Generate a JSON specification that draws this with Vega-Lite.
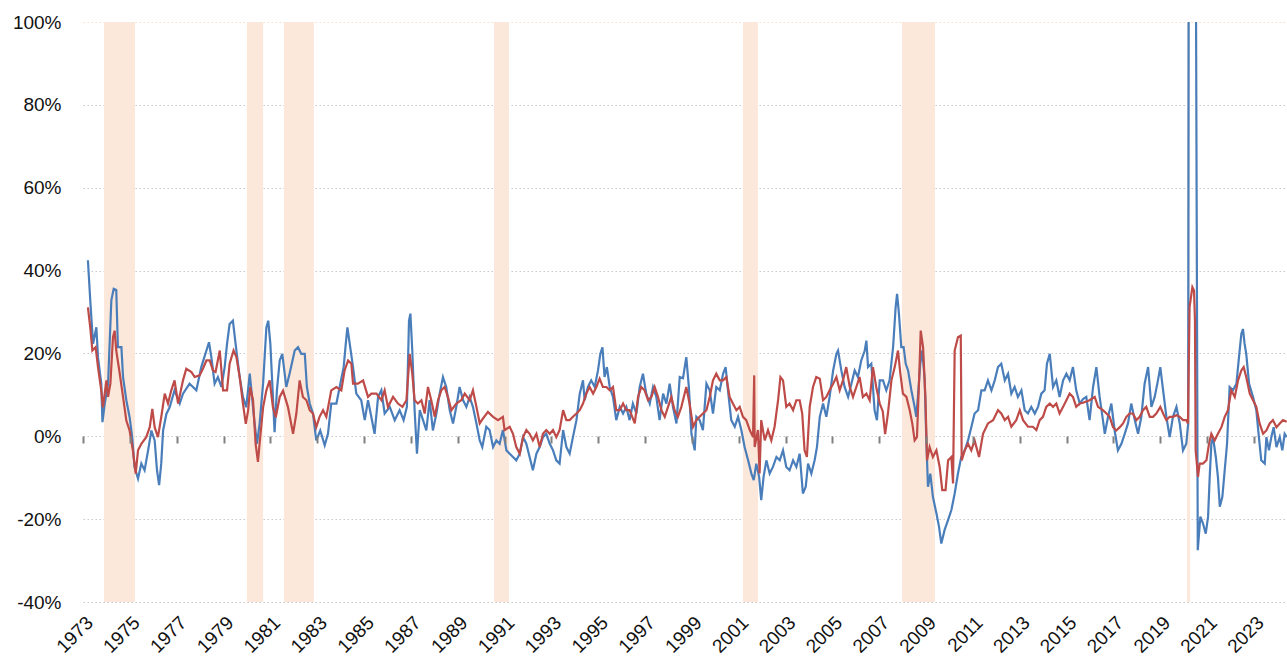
{
  "$schema": "https://vega.github.io/schema/vega-lite/v6.json",
  "autosize": "none",
  "width": 1204,
  "height": 580,
  "padding": {"left": 83, "top": 22, "right": 0, "bottom": 58},
  "background": "white",
  "config": {"view": {"stroke": null}, "font": "Liberation Sans"},
  "datasets": {
    "rec": [
      {"start": 1973.9, "end": 1975.22},
      {"start": 1980.0, "end": 1980.69},
      {"start": 1981.58, "end": 1982.86},
      {"start": 1990.55, "end": 1991.19},
      {"start": 2001.18, "end": 2001.82},
      {"start": 2007.97, "end": 2009.38},
      {"start": 2020.14, "end": 2020.27}
    ],
    "blue": [
      [1973.21,42.5],[1973.31,32.8],[1973.43,22.3],[1973.57,26.3],[1973.64,19.1],[1973.78,12.7],[1973.83,3.4],[1973.93,7.9],[1974.07,12.7],[1974.21,32.8],[1974.31,35.6],[1974.42,35.3],[1974.49,21.5],[1974.64,21.5],[1974.71,14.3],[1974.85,8.7],[1974.99,4.6],[1975.1,-0.2],[1975.2,-7.4],[1975.35,-10.2],[1975.49,-6.6],[1975.63,-8.2],[1975.78,-3.4],[1975.92,1.4],[1976.06,-1.0],[1976.16,-8.2],[1976.25,-11.8],[1976.34,-6.6],[1976.42,1.4],[1976.56,5.4],[1976.7,7.0],[1976.91,11.1],[1977.13,7.9],[1977.27,10.3],[1977.55,12.7],[1977.84,11.1],[1978.05,16.7],[1978.27,20.7],[1978.38,22.7],[1978.48,19.1],[1978.62,12.7],[1978.76,14.3],[1978.91,11.9],[1979.05,16.7],[1979.15,22.3],[1979.26,27.1],[1979.4,27.9],[1979.55,20.7],[1979.69,14.3],[1979.83,9.5],[1979.97,7.0],[1980.12,15.1],[1980.19,11.1],[1980.33,3.0],[1980.43,-1.8],[1980.54,3.0],[1980.69,12.7],[1980.83,26.3],[1980.91,27.9],[1981.0,22.3],[1981.11,9.5],[1981.18,1.0],[1981.28,11.1],[1981.4,18.3],[1981.51,19.9],[1981.68,11.9],[1981.82,15.1],[1982.04,20.7],[1982.18,21.5],[1982.32,19.9],[1982.47,19.9],[1982.56,11.9],[1982.68,7.9],[1982.82,5.5],[1982.96,-1.0],[1983.13,1.4],[1983.32,-2.2],[1983.46,0.6],[1983.6,7.9],[1983.82,7.9],[1983.96,11.9],[1984.13,16.7],[1984.22,22.3],[1984.29,26.3],[1984.39,22.3],[1984.53,16.7],[1984.67,10.3],[1984.88,8.7],[1985.03,3.9],[1985.17,8.7],[1985.31,4.7],[1985.45,0.6],[1985.6,9.5],[1985.74,11.1],[1985.88,5.5],[1986.1,7.1],[1986.31,3.9],[1986.52,6.3],[1986.69,3.9],[1986.83,7.1],[1986.92,27.9],[1986.98,29.6],[1987.06,20.7],[1987.16,6.3],[1987.26,-4.2],[1987.38,6.3],[1987.52,3.9],[1987.66,1.4],[1987.8,8.7],[1987.94,1.4],[1988.09,5.5],[1988.23,10.3],[1988.37,14.3],[1988.51,11.9],[1988.66,6.3],[1988.8,3.1],[1988.94,7.1],[1989.08,11.9],[1989.23,8.7],[1989.37,7.1],[1989.51,9.5],[1989.65,7.1],[1989.8,3.1],[1989.94,-1.0],[1990.05,-2.6],[1990.22,2.3],[1990.36,1.5],[1990.51,-2.6],[1990.65,-1.0],[1990.79,-1.8],[1990.93,1.5],[1991.08,-3.4],[1991.22,-4.2],[1991.36,-5.0],[1991.5,-5.8],[1991.65,-4.2],[1991.79,-0.2],[1991.93,-1.8],[1992.07,-5.0],[1992.21,-8.2],[1992.36,-4.2],[1992.5,-2.6],[1992.64,-0.2],[1992.78,0.6],[1992.93,-1.8],[1993.07,-3.4],[1993.21,-5.8],[1993.35,-6.6],[1993.5,1.5],[1993.64,-2.6],[1993.78,-4.2],[1993.92,-0.2],[1994.07,3.9],[1994.21,10.3],[1994.35,13.5],[1994.42,8.7],[1994.56,11.9],[1994.7,13.5],[1994.85,11.9],[1994.99,15.9],[1995.09,19.9],[1995.18,21.5],[1995.27,14.3],[1995.37,16.7],[1995.49,11.9],[1995.63,9.5],[1995.77,3.9],[1995.92,7.1],[1996.06,5.5],[1996.2,7.1],[1996.34,3.9],[1996.48,7.9],[1996.63,5.5],[1996.77,11.9],[1996.91,15.1],[1997.05,10.3],[1997.2,7.9],[1997.34,11.9],[1997.48,9.5],[1997.62,3.9],[1997.77,10.3],[1997.91,7.9],[1998.05,12.7],[1998.19,7.1],[1998.34,3.1],[1998.48,14.3],[1998.62,14.0],[1998.76,19.1],[1998.87,11.9],[1998.98,0.6],[1999.12,-3.4],[1999.19,4.7],[1999.33,3.9],[1999.47,1.5],[1999.62,12.7],[1999.76,11.1],[1999.9,5.5],[2000.04,11.9],[2000.19,11.1],[2000.33,15.1],[2000.44,16.7],[2000.54,11.1],[2000.68,3.9],[2000.83,2.3],[2000.97,4.7],[2001.11,1.5],[2001.25,-2.6],[2001.4,-5.8],[2001.54,-9.0],[2001.64,-10.6],[2001.75,-6.6],[2001.87,-9.8],[2001.96,-15.4],[2002.06,-9.8],[2002.18,-5.8],[2002.32,-9.0],[2002.46,-7.4],[2002.61,-5.0],[2002.75,-5.8],[2002.89,-3.4],[2003.03,-7.4],[2003.17,-8.2],[2003.32,-5.8],[2003.46,-7.4],[2003.6,-4.2],[2003.74,-13.8],[2003.86,-12.2],[2003.96,-6.6],[2004.1,-9.0],[2004.24,-5.8],[2004.34,-2.6],[2004.46,4.7],[2004.6,7.9],[2004.74,4.7],[2004.88,9.5],[2005.03,15.9],[2005.17,19.9],[2005.24,20.7],[2005.38,15.9],[2005.52,11.9],[2005.67,9.5],[2005.81,12.7],[2005.95,15.9],[2006.09,14.3],[2006.23,18.3],[2006.38,20.7],[2006.45,23.1],[2006.52,16.7],[2006.66,17.5],[2006.8,6.3],[2006.9,3.9],[2007.02,13.5],[2007.16,13.5],[2007.3,11.1],[2007.44,13.5],[2007.59,21.5],[2007.7,31.2],[2007.76,34.4],[2007.84,29.6],[2007.94,21.5],[2008.04,21.5],[2008.13,17.5],[2008.23,15.9],[2008.37,11.1],[2008.51,7.1],[2008.58,4.7],[2008.65,9.5],[2008.75,17.5],[2008.84,20.7],[2008.94,13.5],[2009.01,-1.0],[2009.08,-12.2],[2009.18,-9.0],[2009.29,-14.6],[2009.44,-18.6],[2009.55,-21.8],[2009.65,-25.9],[2009.79,-22.6],[2009.94,-20.2],[2010.08,-17.8],[2010.22,-13.8],[2010.36,-9.0],[2010.5,-5.0],[2010.65,-3.4],[2010.79,-1.0],[2010.93,2.2],[2011.07,5.5],[2011.22,6.3],[2011.36,11.1],[2011.5,11.1],[2011.64,13.5],[2011.79,11.1],[2011.93,13.5],[2012.07,16.7],[2012.21,17.5],[2012.36,13.5],[2012.5,15.1],[2012.64,10.3],[2012.78,11.9],[2012.92,9.5],[2013.07,11.1],[2013.21,6.3],[2013.35,5.5],[2013.49,7.1],[2013.64,5.5],[2013.78,7.1],[2013.92,10.3],[2014.06,11.1],[2014.16,17.5],[2014.28,19.9],[2014.42,11.9],[2014.56,13.5],[2014.7,9.5],[2014.85,13.5],[2014.99,15.1],[2015.13,13.5],[2015.27,16.7],[2015.41,11.1],[2015.56,7.9],[2015.7,9.0],[2015.84,9.5],[2015.98,3.9],[2016.13,11.9],[2016.27,16.7],[2016.41,9.5],[2016.55,3.9],[2016.63,0.6],[2016.77,4.7],[2016.91,7.9],[2017.05,1.4],[2017.19,-3.4],[2017.34,-1.8],[2017.48,0.6],[2017.62,3.1],[2017.76,7.9],[2017.91,3.9],[2018.05,0.6],[2018.19,4.7],[2018.33,12.7],[2018.48,16.7],[2018.62,7.1],[2018.76,9.5],[2018.9,13.5],[2019.0,16.7],[2019.12,11.1],[2019.26,4.7],[2019.4,-0.2],[2019.54,4.7],[2019.69,7.1],[2019.83,3.1],[2019.97,-3.4],[2020.11,-1.8],[2020.19,3.1],[2020.23,200],[2020.47,200],[2020.6,-27.5],[2020.71,-19.4],[2020.82,-21.0],[2020.94,-23.5],[2021.04,-19.4],[2021.11,-9.8],[2021.18,-1.8],[2021.25,-0.2],[2021.37,-5.0],[2021.46,-9.8],[2021.54,-17.0],[2021.65,-14.6],[2021.75,-8.2],[2021.85,-1.8],[2021.96,11.9],[2022.1,11.1],[2022.25,12.7],[2022.36,19.1],[2022.46,24.7],[2022.53,25.9],[2022.6,22.3],[2022.67,19.9],[2022.79,12.7],[2022.96,9.5],[2023.1,6.3],[2023.21,-0.2],[2023.31,-5.8],[2023.46,-6.6],[2023.53,-0.2],[2023.64,-3.4],[2023.74,-0.2],[2023.84,2.2],[2023.96,-2.6],[2024.1,-0.2],[2024.21,-3.4],[2024.31,0.6],[2024.4,-0.2]
    ],
    "red": [
      [1973.21,31.1],[1973.31,26.3],[1973.4,20.7],[1973.54,21.5],[1973.64,16.7],[1973.78,11.1],[1973.85,7.0],[1974.0,13.5],[1974.07,9.5],[1974.17,12.7],[1974.28,23.9],[1974.35,25.5],[1974.42,20.7],[1974.57,15.1],[1974.71,9.5],[1974.85,3.8],[1974.99,1.4],[1975.13,-3.4],[1975.25,-9.0],[1975.35,-3.4],[1975.49,-1.8],[1975.7,-0.2],[1975.85,2.2],[1975.96,6.6],[1976.06,2.2],[1976.2,-0.2],[1976.34,4.6],[1976.49,10.3],[1976.63,7.9],[1976.77,11.1],[1976.91,13.5],[1977.06,7.9],[1977.27,13.5],[1977.41,16.3],[1977.63,15.5],[1977.77,14.3],[1977.98,14.7],[1978.12,16.3],[1978.27,18.3],[1978.41,18.3],[1978.55,15.9],[1978.66,15.5],[1978.84,20.7],[1978.98,11.1],[1979.15,11.1],[1979.26,17.5],[1979.43,20.7],[1979.55,19.1],[1979.69,14.3],[1979.83,7.9],[1979.95,3.0],[1980.05,6.2],[1980.14,11.9],[1980.26,8.7],[1980.37,-1.8],[1980.47,-6.2],[1980.54,-1.8],[1980.69,7.0],[1980.83,11.1],[1980.97,13.5],[1981.11,7.0],[1981.23,4.6],[1981.4,9.5],[1981.54,11.0],[1981.75,7.1],[1981.97,0.6],[1982.11,5.5],[1982.25,13.5],[1982.39,9.5],[1982.54,8.7],[1982.68,6.3],[1982.82,5.5],[1982.96,2.2],[1983.1,4.7],[1983.25,6.3],[1983.39,4.7],[1983.6,11.1],[1983.82,11.9],[1984.03,11.1],[1984.17,15.9],[1984.32,18.3],[1984.46,17.5],[1984.53,12.7],[1984.74,12.7],[1984.96,13.5],[1985.17,9.5],[1985.31,10.3],[1985.53,10.3],[1985.74,8.7],[1985.88,11.1],[1986.02,7.1],[1986.24,9.5],[1986.45,7.9],[1986.64,7.1],[1986.81,8.7],[1986.95,19.9],[1987.06,15.1],[1987.16,8.7],[1987.3,7.9],[1987.45,8.7],[1987.59,5.5],[1987.73,11.9],[1987.87,8.7],[1988.02,4.7],[1988.16,8.7],[1988.3,11.1],[1988.44,11.9],[1988.58,9.5],[1988.73,6.3],[1988.94,7.9],[1989.15,8.7],[1989.3,10.3],[1989.51,8.7],[1989.65,11.1],[1989.8,7.1],[1989.94,3.1],[1990.08,4.3],[1990.29,5.9],[1990.51,4.7],[1990.72,3.9],[1990.93,4.7],[1991.0,1.5],[1991.22,2.3],[1991.36,0.6],[1991.5,-2.6],[1991.65,-4.2],[1991.79,-0.2],[1991.93,1.5],[1992.07,0.6],[1992.21,-1.0],[1992.36,0.6],[1992.5,-2.6],[1992.64,0.6],[1992.78,1.5],[1992.93,0.6],[1993.07,1.5],[1993.21,-0.2],[1993.35,1.5],[1993.5,6.3],[1993.64,3.9],[1993.78,3.9],[1993.92,4.7],[1994.07,5.5],[1994.21,6.3],[1994.35,7.9],[1994.49,10.3],[1994.63,11.9],[1994.78,10.3],[1994.92,11.9],[1995.06,13.9],[1995.2,11.9],[1995.35,11.9],[1995.49,11.1],[1995.63,11.9],[1995.77,6.3],[1995.92,6.3],[1996.06,7.9],[1996.2,6.3],[1996.34,6.3],[1996.56,3.1],[1996.7,9.5],[1996.84,11.9],[1996.98,11.1],[1997.13,8.7],[1997.27,9.5],[1997.41,11.9],[1997.55,9.5],[1997.7,6.3],[1997.84,4.7],[1997.98,7.1],[1998.12,9.5],[1998.26,6.3],[1998.4,4.7],[1998.55,7.1],[1998.62,8.7],[1998.76,11.9],[1998.9,7.9],[1999.05,2.3],[1999.19,3.9],[1999.33,4.7],[1999.47,5.5],[1999.62,6.3],[1999.76,9.5],[1999.9,13.5],[2000.04,15.1],[2000.19,13.5],[2000.33,13.5],[2000.47,14.3],[2000.61,9.5],[2000.75,7.9],[2000.9,6.3],[2001.04,7.1],[2001.18,4.7],[2001.32,3.9],[2001.47,1.5],[2001.61,-0.2],[2001.66,14.7],[2001.68,-2.6],[2001.82,1.5],[2001.89,-9.0],[2001.96,3.9],[2002.11,-1.0],[2002.25,1.5],[2002.39,-1.0],[2002.53,2.3],[2002.68,8.7],[2002.78,14.3],[2002.89,13.5],[2003.03,7.1],[2003.17,7.9],[2003.32,6.3],[2003.46,8.7],[2003.6,8.7],[2003.71,5.5],[2003.81,-3.4],[2003.91,-5.0],[2004.03,7.1],[2004.17,11.9],[2004.31,14.3],[2004.46,13.9],[2004.6,8.7],[2004.74,9.5],[2004.88,11.1],[2005.03,12.7],[2005.17,14.3],[2005.31,11.1],[2005.45,13.5],[2005.59,16.7],[2005.74,11.9],[2005.88,9.5],[2006.02,11.9],[2006.16,14.3],[2006.3,9.5],[2006.45,10.3],[2006.59,8.7],[2006.73,16.7],[2006.87,11.9],[2007.02,7.9],[2007.15,6.0],[2007.25,0.5],[2007.37,5.5],[2007.52,13.5],[2007.66,16.7],[2007.8,20.7],[2007.9,15.1],[2008.01,10.3],[2008.16,9.5],[2008.3,6.3],[2008.41,3.1],[2008.51,-1.0],[2008.61,-0.2],[2008.7,13.5],[2008.77,25.5],[2008.87,21.5],[2008.97,9.5],[2009.04,-5.8],[2009.15,-2.6],[2009.29,-5.0],[2009.44,-3.4],[2009.58,-7.4],[2009.69,-13.0],[2009.83,-13.0],[2009.94,-5.8],[2010.08,-5.0],[2010.15,-11.4],[2010.22,20.7],[2010.36,23.9],[2010.48,24.3],[2010.52,-5.8],[2010.65,-3.4],[2010.79,-1.8],[2010.93,-3.4],[2011.07,-1.0],[2011.26,-5.0],[2011.43,0.6],[2011.64,3.1],[2011.86,3.9],[2012.07,6.3],[2012.21,5.5],[2012.36,3.9],[2012.5,4.7],[2012.64,2.3],[2012.85,3.9],[2013.0,6.3],[2013.14,3.9],[2013.35,2.3],[2013.56,2.3],[2013.71,1.5],[2013.85,3.9],[2013.99,4.7],[2014.13,7.1],[2014.28,7.9],[2014.42,7.1],[2014.56,7.9],[2014.7,5.5],[2014.85,7.1],[2014.99,8.7],[2015.13,10.3],[2015.27,9.5],[2015.41,7.1],[2015.56,7.9],[2015.7,8.1],[2015.98,8.7],[2016.2,9.5],[2016.34,7.1],[2016.55,6.3],[2016.7,5.5],[2016.84,4.7],[2016.98,2.2],[2017.12,1.4],[2017.27,2.2],[2017.41,3.1],[2017.55,4.7],[2017.69,5.5],[2017.83,5.5],[2017.98,3.9],[2018.12,4.7],[2018.26,6.3],[2018.4,7.1],[2018.55,4.7],[2018.69,4.7],[2018.83,5.5],[2019.0,7.1],[2019.12,5.5],[2019.26,3.9],[2019.4,4.7],[2019.54,4.7],[2019.69,5.1],[2019.83,4.7],[2019.97,3.9],[2020.11,3.9],[2020.18,3.1],[2020.25,31.2],[2020.37,36.0],[2020.44,35.2],[2020.48,28.0],[2020.51,-3.4],[2020.61,-9.8],[2020.68,-6.6],[2020.82,-6.6],[2020.97,-5.8],[2021.08,-1.8],[2021.18,0.6],[2021.32,-1.0],[2021.46,0.6],[2021.61,2.2],[2021.75,4.7],[2021.89,6.3],[2022.03,11.1],[2022.18,9.5],[2022.32,13.5],[2022.46,15.9],[2022.56,16.7],[2022.67,14.3],[2022.82,10.3],[2022.96,8.7],[2023.1,7.1],[2023.24,3.1],[2023.39,0.6],[2023.53,1.4],[2023.67,3.1],[2023.81,3.9],[2023.96,2.2],[2024.1,3.1],[2024.24,3.9],[2024.4,3.5]
    ]
  },
  "layer": [
    {
      "data": {"name": "rec"},
      "mark": {"type": "rect", "color": "#fce8da"},
      "encoding": {
        "x": {
          "field": "start", "type": "quantitative",
          "scale": {"domain": [1973, 2024.41], "nice": false, "zero": false},
          "axis": {
            "orient": "bottom", "offset": -166, "values": [1973,1975,1977,1979,1981,1983,1985,1987,1989,1991,1993,1995,1997,1999,2001,2003,2005,2007,2009,2011,2013,2015,2017,2019,2021,2023],
            "labels": false, "grid": false, "domain": false, "ticks": true,
            "tickColor": "#808080", "tickSize": 7, "tickWidth": 2, "title": null, "zindex": 1
          }
        },
        "x2": {"field": "end"}
      }
    },
    {
      "mark": {"type": "rule", "color": "#8c8c8c", "strokeWidth": 1.6},
      "encoding": {"y": {"datum": 0, "type": "quantitative"}}
    },
    {
      "data": {"name": "blue"},
      "transform": [{"calculate": "datum[0]", "as": "year"}, {"calculate": "datum[1]", "as": "value"}],
      "mark": {"type": "line", "color": "#4a7ebb", "strokeWidth": 2.2, "clip": true},
      "encoding": {
        "x": {
          "field": "year", "type": "quantitative",
          "axis": {
            "orient": "bottom", "values": [1973,1975,1977,1979,1981,1983,1985,1987,1989,1991,1993,1995,1997,1999,2001,2003,2005,2007,2009,2011,2013,2015,2017,2019,2021,2023],
            "format": "d", "labelAngle": -45, "labelFontSize": 19, "labelColor": "#111111",
            "labelPadding": 11, "domain": false, "ticks": false, "grid": false, "title": null
          }
        },
        "y": {
          "field": "value", "type": "quantitative",
          "scale": {"domain": [-40, 100], "nice": false},
          "axis": {
            "values": [-40, -20, 0, 20, 40, 60, 80, 100],
            "labelExpr": "datum.value + '%'",
            "labelFontSize": 19, "labelColor": "#111111", "labelPadding": 22,
            "domain": false, "ticks": false, "title": null,
            "grid": true, "gridDash": [1.5, 2.5], "gridWidth": 1.2,
            "gridColor": {"condition": {"test": "datum.value === 100", "value": "#f9dcc8"}, "value": "#c8c8c8"}
          }
        }
      }
    },
    {
      "data": {"name": "red"},
      "transform": [{"calculate": "datum[0]", "as": "year"}, {"calculate": "datum[1]", "as": "value"}],
      "mark": {"type": "line", "color": "#be4b48", "strokeWidth": 2.2, "clip": true},
      "encoding": {
        "x": {"field": "year", "type": "quantitative", "axis": null},
        "y": {"field": "value", "type": "quantitative"}
      }
    }
  ],
  "resolve": {"axis": {"x": "independent"}}
}
